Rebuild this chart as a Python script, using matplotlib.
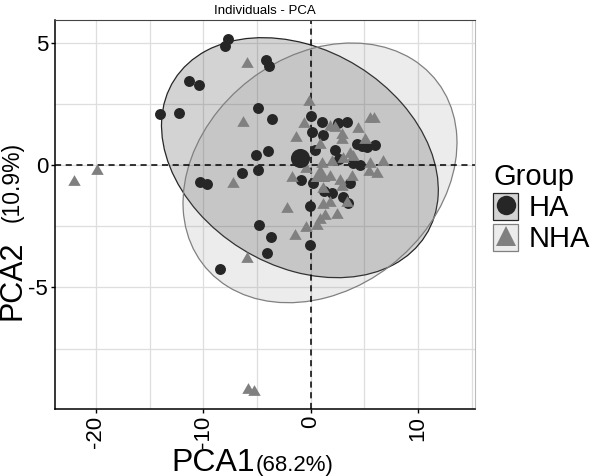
"""
PCA individuals plot with group ellipses (HA vs NHA).
"""
import numpy as np
import matplotlib
matplotlib.use("Agg")
import matplotlib.pyplot as plt
from matplotlib.patches import Ellipse, Patch
from matplotlib.lines import Line2D
from matplotlib.colors import to_rgba
from matplotlib.legend_handler import HandlerTuple

plt.rcParams['font.family'] = ['Liberation Sans', 'DejaVu Sans']
plt.rcParams['axes.unicode_minus'] = False

# --- data ---------------------------------------------------------------
ha_x = [-7.66, -7.94, -11.29, -10.36, -4.19, -3.91, -13.99, -12.25, -4.87, -3.63,
        -4.00, -5.09, -4.87, -6.36, -10.30, -9.67, -4.78, -3.72, -4.09, -8.44,
        -0.07, -0.07, 3.47, 0.03, 1.02, 3.40, 2.57, 0.12, 1.17, 0.43,
        2.26, 4.35, 5.20, 6.00, 2.60, 3.97, 4.60, -0.87, 0.24, 1.20,
        1.95, 3.00, 3.66, 4.80]
ha_y = [5.13, 4.87, 3.43, 3.25, 4.27, 4.05, 2.08, 2.14, 2.33, 1.89,
        0.59, 0.39, -0.19, -0.34, -0.68, -0.76, -2.46, -2.95, -3.58, -4.26,
        -3.27, -1.68, -1.56, 2.00, 1.75, 1.75, 1.70, 1.36, 1.24, 0.61,
        0.60, 0.85, 0.72, 0.81, 0.25, 0.07, 0.00, -0.61, -0.73, -1.05,
        -1.16, -1.29, -0.72, 0.78]

nha_x = [-5.93, -6.30, -22.02, -19.85, -7.26, -1.72, -2.23, -1.46, -5.92, -5.86,
         -5.25, -0.12, -0.65, 1.80, 2.30, 2.88, 4.43, 5.55, 5.90, -1.40,
         0.87, 2.88, 5.05, 3.66, 3.97, 1.02, 1.95, 3.03, 5.52, 6.70,
         -0.45, 1.80, 2.73, 3.81, 5.45, 6.14, 2.88, 1.17, 1.17, 1.80,
         3.35, 2.42, 1.33, 0.87, 0.56, -0.40]
nha_y = [4.19, 1.78, -0.61, -0.16, -0.68, -0.45, -1.72, -2.80, -3.76, -9.10,
         -9.20, 2.65, 1.77, 1.65, 1.60, 1.30, 1.57, 1.97, 1.95, 1.19,
         0.90, 1.09, 1.10, 0.54, 0.41, 0.14, 0.20, 0.34, 0.14, 0.20,
         -0.07, -0.41, -0.58, -0.41, -0.20, -0.30, -0.82, -0.88, -1.56, -1.45,
         -1.46, -1.97, -2.00, -2.17, -2.40, -2.47]

# group centroids
ha_mean = (-1.00, 0.30)
nha_mean = (0.87, -0.32)

# ellipse covariance (xx, yy, xy) around each centroid
ha_cov = (166.0, 24.0, -17.0)
nha_cov = (162.6, 28.1, 15.7)

groups = ['HA', 'NHA']
pt_colors = {'HA': '#262626', 'NHA': '#808080'}
fill_alpha = {'HA': 0.2, 'NHA': 0.15}

x_ticks = [-20, -10, 0, 10]
y_ticks = [-5, 0, 5]


def ellipse_patch(center, cov, g):
    sxx, syy, sxy = cov
    vals, vecs = np.linalg.eigh(np.array([[sxx, sxy], [sxy, syy]]))
    order = vals.argsort()[::-1]
    vals, vecs = vals[order], vecs[:, order]
    angle = np.degrees(np.arctan2(vecs[1, 0], vecs[0, 0]))
    return Ellipse(center, 2 * np.sqrt(vals[0]), 2 * np.sqrt(vals[1]), angle=angle,
                   facecolor=to_rgba(pt_colors[g], fill_alpha[g]),
                   edgecolor=pt_colors[g], linewidth=0.9)


fig = plt.figure(figsize=(5.97, 4.76), dpi=100)
ax = fig.add_axes([55 / 597, 67 / 476, 420 / 597, 389 / 476])

ax.add_patch(ellipse_patch(ha_mean, ha_cov, 'HA'))
ax.add_patch(ellipse_patch(nha_mean, nha_cov, 'NHA'))

tri = [(-1, -0.866), (1, -0.866), (0, 0.866)]
ax.scatter(ha_x, ha_y, s=62, marker='o', color=pt_colors['HA'], linewidths=0, zorder=3)
ax.scatter(nha_x, nha_y, s=80, marker=tri, color=pt_colors['NHA'], linewidths=0, zorder=3)
ax.scatter([ha_mean[0]], [ha_mean[1]], s=190, marker='o', color=pt_colors['HA'],
           linewidths=0, zorder=4)
ax.scatter([nha_mean[0]], [nha_mean[1]], s=200, marker=tri, color=pt_colors['NHA'],
           linewidths=0, zorder=4)

ax.axhline(0, color='black', linestyle=(0, (4, 3)), linewidth=1.1, zorder=2)
ax.axvline(0, color='black', linestyle=(0, (4, 3)), linewidth=1.1, zorder=2)

ax.set_xlim(-23.8, 15.3)
ax.set_ylim(-9.96, 5.92)
ax.set_xticks(x_ticks)
ax.set_yticks(y_ticks)
ax.set_xticks([-15, -5, 5, 15], minor=True)
ax.set_yticks([-7.5, -2.5, 2.5], minor=True)
ax.grid(True, which='both', color='#dedede', linewidth=0.9)
ax.set_axisbelow(True)
ax.tick_params(axis='both', which='minor', length=0)
ax.tick_params(axis='both', which='major', length=3, width=1, color='black',
               labelsize=16, pad=2)
ax.tick_params(axis='x', labelrotation=90)
for s in ['left', 'bottom']:
    ax.spines[s].set_color('black')
    ax.spines[s].set_linewidth(1.1)
ax.spines['top'].set_color('#444444')
ax.spines['top'].set_linewidth(0.8)
ax.spines['right'].set_color('#bbbbbb')
ax.spines['right'].set_linewidth(0.8)

ax.set_title('Individuals - PCA', fontsize=9.5, pad=4)

# axis labels with smaller percentages
fig.text(255 / 597, 1 - 471 / 476, 'PCA1', fontsize=23, ha='right', va='baseline')
fig.text(256 / 597, 1 - 471 / 476, '(68.2%)', fontsize=16, ha='left', va='baseline')
fig.text(12.5 / 597, 1 - 320 / 476, 'PCA2', fontsize=22, rotation=90,
         ha='center', va='bottom')
fig.text(12.5 / 597, 1 - 222 / 476, '(10.9%)', fontsize=16.5, rotation=90,
         ha='center', va='bottom')

handles = []
for g, mk, ms in [('HA', 'o', 14), ('NHA', '^', 15)]:
    box = Patch(facecolor=to_rgba(pt_colors[g], fill_alpha[g]), edgecolor=pt_colors[g],
                linewidth=0.9)
    mark = Line2D([], [], marker=mk, linestyle='none', markersize=ms,
                  markerfacecolor=pt_colors[g], markeredgewidth=0)
    handles.append((box, mark))

leg = fig.legend(handles, groups, handler_map={tuple: HandlerTuple(ndivide=1, pad=0)},
                 loc='upper left', bbox_to_anchor=(473 / 597, 1 - 143 / 476),
                 frameon=False, fontsize=21, title='Group', title_fontsize=21,
                 handlelength=0.85, handleheight=1.05, labelspacing=0.05,
                 handletextpad=0.35, borderpad=0.2, alignment='left')

fig.savefig('out.png', dpi=100)
